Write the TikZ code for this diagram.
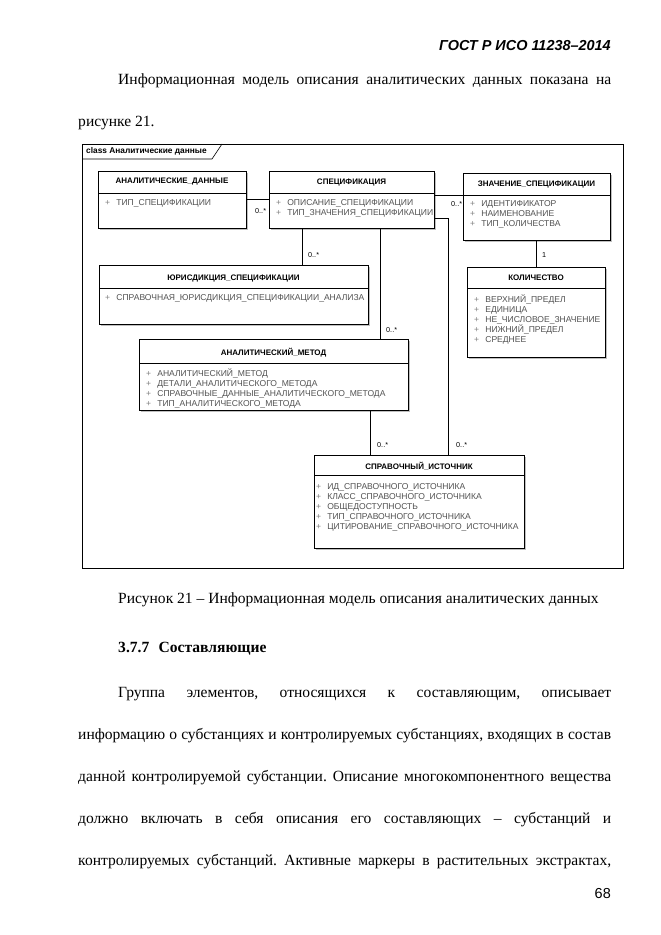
\documentclass[tikz,border=0pt]{standalone}
\usepackage{fontspec}
\setmainfont{Liberation Serif}
\setsansfont{Liberation Sans}
\usetikzlibrary{positioning,fit,shadows}
\frenchspacing

\tikzset{
  classbox/.style={draw, line width=0.8pt, fill=white, inner sep=0pt,
    drop shadow={shadow xshift=1.6pt, shadow yshift=-1.6pt, fill=black!25, opacity=1}},
  classtitle/.style={font=\sffamily\bfseries\fontsize{7.2}{8}\selectfont, inner sep=0pt},
  attrlist/.style={font=\sffamily\fontsize{7.7}{9}\selectfont, align=left, inner sep=0pt, anchor=north west},
  mult/.style={font=\sffamily\fontsize{6.5}{7}\selectfont, inner sep=0pt, anchor=west},
  assoc/.style={line width=0.7pt},
  bodyline/.style={font=\fontsize{14}{16}\selectfont, inner sep=0pt, anchor=west},
}
\newcommand{\attr}[1]{\makebox[10pt][l]{\textcolor{black!50}{+}}\textcolor{black!68}{#1}}

\begin{document}
\begin{tikzpicture}[x=0.9pt, y=-0.9pt]
    \useasboundingbox (0,0) rectangle (661,935);

    % page text above the figure
    \node[anchor=east, inner sep=0pt, font=\sffamily\bfseries\itshape\fontsize{13}{15}\selectfont] (gost) at (611,46) {ГОСТ Р ИСО 11238–2014};
    \node[bodyline] (p1a) at (118,81) {\makebox[443.7pt][s]{Информационная модель описания аналитических данных показана на}};
    \node[bodyline] (p1b) at (78,123) {рисунке 21.};

    % frame
    \node[draw, line width=0.8pt, inner sep=0pt, fit={(82,144) (623,568)}] (frame) {};
    \draw[line width=0.6pt] (82,159) -- (212,159) -- (222,144);
    \node[anchor=west, inner sep=0pt, font=\sffamily\bfseries\fontsize{7.5}{8}\selectfont] (frametitle) at (86,151.5) {class Аналитические данные};

    % classes
    \node[classbox, fit={(98,171) (246,228)}] (adata) {};
    \node[classtitle] (adata-title) at (172,182) {АНАЛИТИЧЕСКИЕ\_ДАННЫЕ};
    \draw (98,193) -- (246,193);
    \node[attrlist] (adata-attr) at (105,199) {\attr{ТИП\_СПЕЦИФИКАЦИИ}};

    \node[classbox, fit={(269,171) (434,228)}] (spec) {};
    \node[classtitle] (spec-title) at (351.5,183) {СПЕЦИФИКАЦИЯ};
    \draw (269,193) -- (434,193);
    \node[attrlist] (spec-attr) at (276,199) {\attr{ОПИСАНИЕ\_СПЕЦИФИКАЦИИ}\\ \attr{ТИП\_ЗНАЧЕНИЯ\_СПЕЦИФИКАЦИИ}};

    \node[classbox, fit={(463,173) (610,240)}] (value) {};
    \node[classtitle] (value-title) at (536.5,185) {ЗНАЧЕНИЕ\_СПЕЦИФИКАЦИИ};
    \draw (463,195) -- (610,195);
    \node[attrlist] (value-attr) at (470,200) {\attr{ИДЕНТИФИКАТОР}\\ \attr{НАИМЕНОВАНИЕ}\\ \attr{ТИП\_КОЛИЧЕСТВА}};

    \node[classbox, fit={(99,265) (368,324)}] (juris) {};
    \node[classtitle] (juris-title) at (233.5,278) {ЮРИСДИКЦИЯ\_СПЕЦИФИКАЦИИ};
    \draw (99,288) -- (368,288);
    \node[attrlist] (juris-attr) at (105,294) {\attr{СПРАВОЧНАЯ\_ЮРИСДИКЦИЯ\_СПЕЦИФИКАЦИИ\_АНАЛИЗА}};

    \node[classbox, fit={(467,267) (605,357)}] (qty) {};
    \node[classtitle] (qty-title) at (536,278) {КОЛИЧЕСТВО};
    \draw (467,288) -- (605,288);
    \node[attrlist] (qty-attr) at (474,295) {\attr{ВЕРХНИЙ\_ПРЕДЕЛ}\\ \attr{ЕДИНИЦА}\\ \attr{НЕ\_ЧИСЛОВОЕ\_ЗНАЧЕНИЕ}\\ \attr{НИЖНИЙ\_ПРЕДЕЛ}\\ \attr{СРЕДНЕЕ}};

    \node[classbox, fit={(139,339) (408,410)}] (method) {};
    \node[classtitle] (method-title) at (273.5,353) {АНАЛИТИЧЕСКИЙ\_МЕТОД};
    \draw (139,363) -- (408,363);
    \node[attrlist] (method-attr) at (146,369) {\attr{АНАЛИТИЧЕСКИЙ\_МЕТОД}\\ \attr{ДЕТАЛИ\_АНАЛИТИЧЕСКОГО\_МЕТОДА}\\ \attr{СПРАВОЧНЫЕ\_ДАННЫЕ\_АНАЛИТИЧЕСКОГО\_МЕТОДА}\\ \attr{ТИП\_АНАЛИТИЧЕСКОГО\_МЕТОДА}};

    \node[classbox, fit={(314,455) (524,548)}] (source) {};
    \node[classtitle] (source-title) at (419,466) {СПРАВОЧНЫЙ\_ИСТОЧНИК};
    \draw (314,475) -- (524,475);
    \node[attrlist] (source-attr) at (316,483) {\attr{ИД\_СПРАВОЧНОГО\_ИСТОЧНИКА}\\ \attr{КЛАСС\_СПРАВОЧНОГО\_ИСТОЧНИКА}\\ \attr{ОБЩЕДОСТУПНОСТЬ}\\ \attr{ТИП\_СПРАВОЧНОГО\_ИСТОЧНИКА}\\ \attr{ЦИТИРОВАНИЕ\_СПРАВОЧНОГО\_ИСТОЧНИКА}};

    % rows and columns of the associations
    \coordinate (row-value) at (0,195);
    \coordinate (row-source) at (0,218);
    \coordinate (col-juris) at (302,0);
    \coordinate (col-method) at (380,0);
    \coordinate (col-right) at (448,0);
    \coordinate (col-qty) at (536,0);
    \coordinate (col-src) at (370,0);

    % associations
    \draw[assoc] (adata.east) -- (spec.west);
    \draw[assoc] (spec.east |- row-value) -- (value.west |- row-value);
    \draw[assoc] (spec.east |- row-source) -| (source.north -| col-right);
    \draw[assoc] (spec.south -| col-juris) -- (juris.north -| col-juris);
    \draw[assoc] (spec.south -| col-method) -- (method.north -| col-method);
    \draw[assoc] (value.south -| col-qty) -- (qty.north -| col-qty);
    \draw[assoc] (method.south -| col-src) -- (source.north -| col-src);

    % multiplicities
    \node[mult] (m-adata) at (255,211) {0..*};
    \node[mult] (m-value) at (451,204) {0..*};
    \node[mult] (m-juris) at (308,255) {0..*};
    \node[mult] (m-method) at (386,330) {0..*};
    \node[mult] (m-qty) at (542,255) {1};
    \node[mult] (m-src) at (377,445) {0..*};
    \node[mult] (m-right) at (456,445) {0..*};

    % page text below the figure
    \node[bodyline] (caption) at (118,600) {Рисунок 21 – Информационная модель описания аналитических данных};
    \node[bodyline, font=\bfseries\fontsize{14}{16}\selectfont] (sec) at (118,649) {3.7.7\hspace{0.6em}Составляющие};
    \node[bodyline] (p2a) at (118,694) {\makebox[443.7pt][s]{Группа элементов, относящихся к составляющим, описывает}};
    \node[bodyline] (p2b) at (78,736) {\makebox[479.7pt][s]{информацию о субстанциях и контролируемых субстанциях, входящих в состав}};
    \node[bodyline] (p2c) at (78,778) {\makebox[479.7pt][s]{данной контролируемой субстанции. Описание многокомпонентного вещества}};
    \node[bodyline] (p2d) at (78,820) {\makebox[479.7pt][s]{должно включать в себя описания его составляющих – субстанций и}};
    \node[bodyline] (p2e) at (78,862) {\makebox[479.7pt][s]{контролируемых субстанций. Активные маркеры в растительных экстрактах,}};
    \node[anchor=east, inner sep=0pt, font=\sffamily\fontsize{13}{15}\selectfont] (pageno) at (611,894) {68};
\end{tikzpicture}
\end{document}
